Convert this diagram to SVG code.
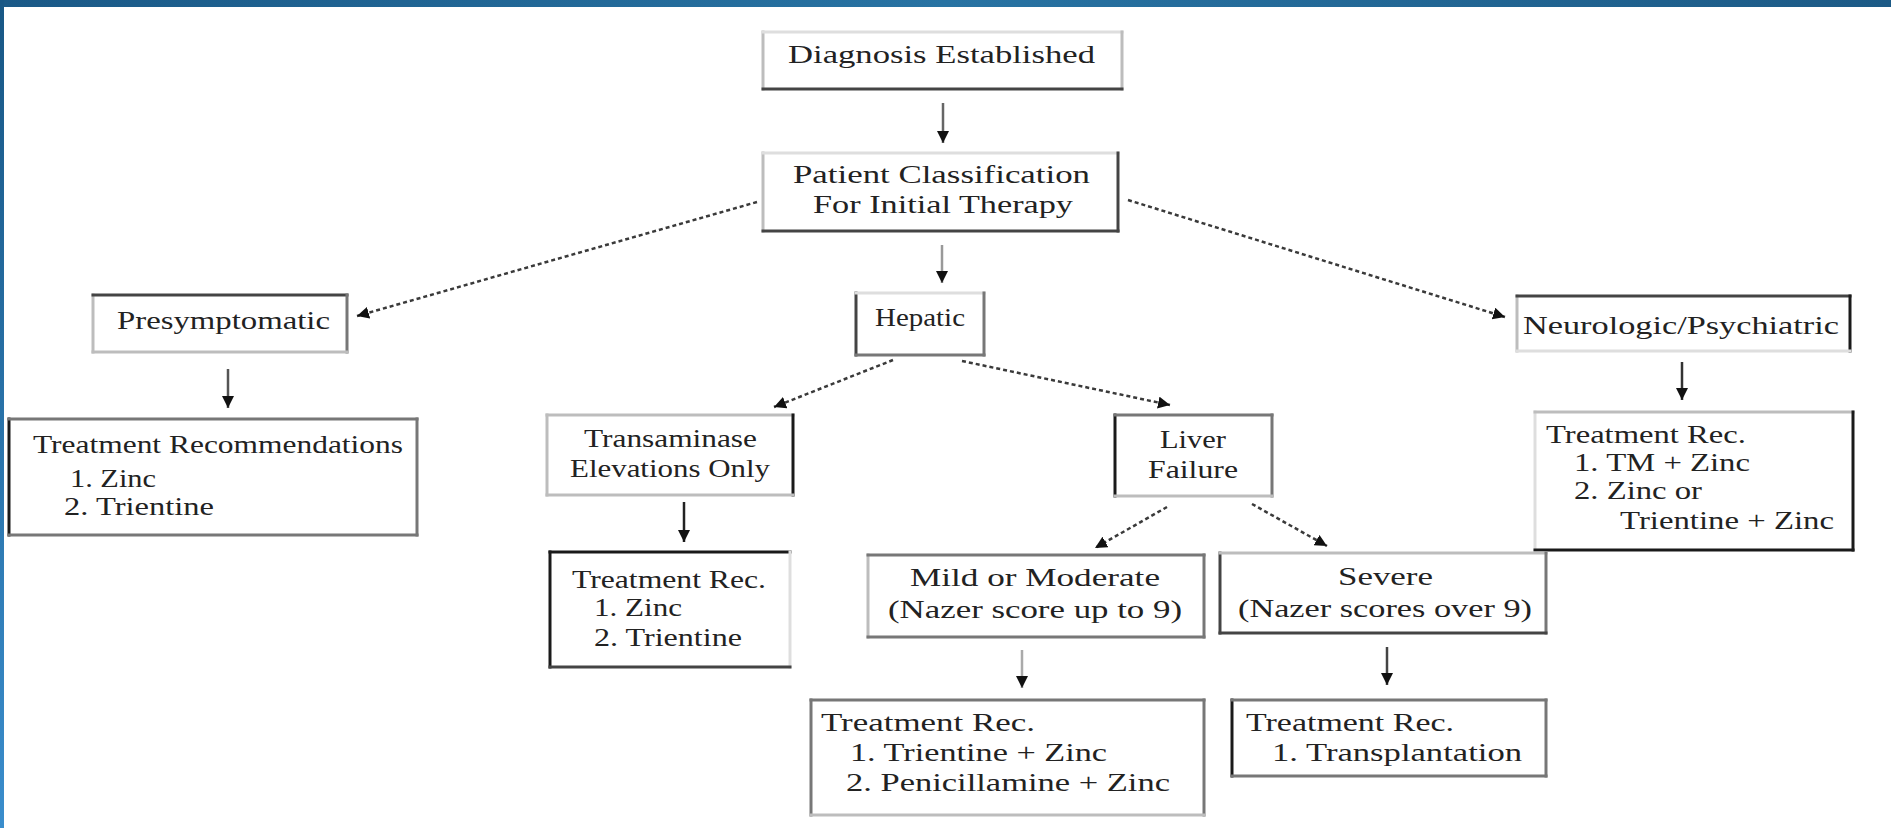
<svg xmlns="http://www.w3.org/2000/svg" width="1891" height="828" viewBox="0 0 1891 828">
  <defs>
    <linearGradient id="bandTop" x1="0" y1="0" x2="1" y2="0">
      <stop offset="0" stop-color="#1a5987"/>
      <stop offset="0.5" stop-color="#2873a3"/>
      <stop offset="1" stop-color="#1c5a86"/>
    </linearGradient>
    <linearGradient id="bandLeft" x1="0" y1="0" x2="0" y2="1">
      <stop offset="0" stop-color="#185785"/>
      <stop offset="1" stop-color="#3a8dcc"/>
    </linearGradient>
    <marker id="head" markerUnits="userSpaceOnUse" markerWidth="14" markerHeight="14" refX="12" refY="6" orient="auto">
      <path d="M0,0 L12,6 L0,12 z" fill="#111"/>
    </marker>
    <style>
      .bg { fill: #ffffff; stroke: none; }
      .e { fill: none; stroke-width: 3; stroke-linecap: square; }
      .k { stroke: #1a1a1a; }
      .d { stroke: #444444; }
      .m { stroke: #777777; }
      .l { stroke: #bdbdbd; }
      .x { stroke: #dedede; }
      text { font-family: "Liberation Serif", "Times New Roman", serif; font-size: 26px; fill: #222222; }
      .solid { fill: none; stroke-width: 2.5; marker-end: url(#head); }
      .dash { fill: none; stroke: #3a3a3a; stroke-width: 2.5; stroke-dasharray: 4 3; marker-end: url(#head); }
    </style>
  </defs>

  <!-- page background and blue frame -->
  <rect x="0" y="0" width="1891" height="828" fill="#ffffff"/>
  <rect x="0" y="0" width="1891" height="7" fill="url(#bandTop)"/>
  <rect x="0" y="0" width="4" height="828" fill="url(#bandLeft)"/>

  <!-- connectors -->
  <g id="connectors">
    <line class="solid" x1="943" y1="103" x2="943" y2="143" stroke="#666"/>
    <line class="solid" x1="942" y1="245" x2="942" y2="283" stroke="#999"/>
    <line class="dash" x1="757" y1="202" x2="357" y2="316"/>
    <line class="dash" x1="1128" y1="200" x2="1505" y2="317"/>
    <line class="solid" x1="228" y1="369" x2="228" y2="408" stroke="#555"/>
    <line class="dash" x1="893" y1="360" x2="774" y2="407"/>
    <line class="dash" x1="962" y1="361" x2="1170" y2="405"/>
    <line class="solid" x1="1682" y1="362" x2="1682" y2="400" stroke="#333"/>
    <line class="solid" x1="684" y1="502" x2="684" y2="542" stroke="#222"/>
    <line class="dash" x1="1167" y1="507" x2="1095" y2="548"/>
    <line class="dash" x1="1252" y1="504" x2="1327" y2="546"/>
    <line class="solid" x1="1022" y1="650" x2="1022" y2="688" stroke="#aaa"/>
    <line class="solid" x1="1387" y1="647" x2="1387" y2="685" stroke="#444"/>
  </g>

  <!-- Diagnosis Established -->
  <g id="diagnosis">
    <rect class="bg" x="763" y="32" width="359" height="57"/>
    <path class="e l" d="M763,32 V89"/><path class="e x" d="M763,32 H1122"/>
    <path class="e l" d="M1122,32 V89"/><path class="e d" d="M763,89 H1122"/>
    <text x="788" y="63" textLength="307" lengthAdjust="spacingAndGlyphs">Diagnosis Established</text>
  </g>

  <!-- Patient Classification -->
  <g id="classification">
    <rect class="bg" x="763" y="153" width="355" height="78"/>
    <path class="e l" d="M763,153 V231"/><path class="e x" d="M763,153 H1118"/>
    <path class="e d" d="M1118,153 V231"/><path class="e d" d="M763,231 H1118"/>
    <text x="793" y="183" textLength="297" lengthAdjust="spacingAndGlyphs">Patient Classification</text>
    <text x="813" y="213" textLength="260" lengthAdjust="spacingAndGlyphs">For Initial Therapy</text>
  </g>

  <!-- Presymptomatic -->
  <g id="presymptomatic">
    <rect class="bg" x="93" y="295" width="254" height="57"/>
    <path class="e l" d="M93,295 V352"/><path class="e d" d="M93,295 H347"/>
    <path class="e m" d="M347,295 V352"/><path class="e l" d="M93,352 H347"/>
    <text x="117" y="329" textLength="213" lengthAdjust="spacingAndGlyphs">Presymptomatic</text>
  </g>

  <g id="rec-presymptomatic">
    <rect class="bg" x="9" y="419" width="408" height="116"/>
    <path class="e k" d="M9,419 V535"/><path class="e m" d="M9,419 H417"/>
    <path class="e m" d="M417,419 V535"/><path class="e m" d="M9,535 H417"/>
    <text x="33" y="453" textLength="370" lengthAdjust="spacingAndGlyphs">Treatment Recommendations</text>
    <text x="70" y="487" textLength="86" lengthAdjust="spacingAndGlyphs">1. Zinc</text>
    <text x="64" y="515" textLength="150" lengthAdjust="spacingAndGlyphs">2. Trientine</text>
  </g>

  <!-- Hepatic -->
  <g id="hepatic">
    <rect class="bg" x="856" y="293" width="128" height="62"/>
    <path class="e d" d="M856,293 V355"/><path class="e x" d="M856,293 H984"/>
    <path class="e m" d="M984,293 V355"/><path class="e m" d="M856,355 H984"/>
    <text x="875" y="326" textLength="90" lengthAdjust="spacingAndGlyphs">Hepatic</text>
  </g>

  <!-- Neurologic/Psychiatric -->
  <g id="neurologic">
    <rect class="bg" x="1517" y="296" width="333" height="55"/>
    <path class="e l" d="M1517,296 V351"/><path class="e d" d="M1517,296 H1850"/>
    <path class="e k" d="M1850,296 V351"/><path class="e x" d="M1517,351 H1850"/>
    <text x="1523" y="334" textLength="316" lengthAdjust="spacingAndGlyphs">Neurologic/Psychiatric</text>
  </g>

  <g id="rec-neurologic">
    <rect class="bg" x="1535" y="412" width="318" height="138"/>
    <path class="e x" d="M1535,412 V550"/><path class="e l" d="M1535,412 H1853"/>
    <path class="e k" d="M1853,412 V550"/><path class="e k" d="M1535,550 H1853"/>
    <text x="1546" y="443" textLength="200" lengthAdjust="spacingAndGlyphs">Treatment Rec.</text>
    <text x="1574" y="471" textLength="176" lengthAdjust="spacingAndGlyphs">1. TM + Zinc</text>
    <text x="1574" y="499" textLength="128" lengthAdjust="spacingAndGlyphs">2. Zinc or</text>
    <text x="1620" y="529" textLength="214" lengthAdjust="spacingAndGlyphs">Trientine + Zinc</text>
  </g>

  <!-- Transaminase Elevations Only -->
  <g id="transaminase">
    <rect class="bg" x="547" y="415" width="246" height="80"/>
    <path class="e l" d="M547,415 V495"/><path class="e l" d="M547,415 H793"/>
    <path class="e k" d="M793,415 V495"/><path class="e l" d="M547,495 H793"/>
    <text x="584" y="447" textLength="173" lengthAdjust="spacingAndGlyphs">Transaminase</text>
    <text x="570" y="477" textLength="200" lengthAdjust="spacingAndGlyphs">Elevations Only</text>
  </g>

  <g id="rec-transaminase">
    <rect class="bg" x="550" y="552" width="240" height="115"/>
    <path class="e k" d="M550,552 V667"/><path class="e k" d="M550,552 H790"/>
    <path class="e x" d="M790,552 V667"/><path class="e d" d="M550,667 H790"/>
    <text x="572" y="588" textLength="194" lengthAdjust="spacingAndGlyphs">Treatment Rec.</text>
    <text x="594" y="616" textLength="88" lengthAdjust="spacingAndGlyphs">1. Zinc</text>
    <text x="594" y="646" textLength="148" lengthAdjust="spacingAndGlyphs">2. Trientine</text>
  </g>

  <!-- Liver Failure -->
  <g id="liver-failure">
    <rect class="bg" x="1115" y="415" width="157" height="81"/>
    <path class="e k" d="M1115,415 V496"/><path class="e m" d="M1115,415 H1272"/>
    <path class="e m" d="M1272,415 V496"/><path class="e l" d="M1115,496 H1272"/>
    <text x="1160" y="448" textLength="66" lengthAdjust="spacingAndGlyphs">Liver</text>
    <text x="1148" y="478" textLength="90" lengthAdjust="spacingAndGlyphs">Failure</text>
  </g>

  <!-- Mild or Moderate -->
  <g id="mild">
    <rect class="bg" x="868" y="555" width="336" height="82"/>
    <path class="e l" d="M868,555 V637"/><path class="e m" d="M868,555 H1204"/>
    <path class="e m" d="M1204,555 V637"/><path class="e m" d="M868,637 H1204"/>
    <text x="910" y="586" textLength="250" lengthAdjust="spacingAndGlyphs">Mild or Moderate</text>
    <text x="888" y="618" textLength="294" lengthAdjust="spacingAndGlyphs">(Nazer score up to 9)</text>
  </g>

  <g id="rec-mild">
    <rect class="bg" x="811" y="700" width="393" height="115"/>
    <path class="e m" d="M811,700 V815"/><path class="e m" d="M811,700 H1204"/>
    <path class="e m" d="M1204,700 V815"/><path class="e l" d="M811,815 H1204"/>
    <text x="821" y="731" textLength="214" lengthAdjust="spacingAndGlyphs">Treatment Rec.</text>
    <text x="850" y="761" textLength="257" lengthAdjust="spacingAndGlyphs">1. Trientine + Zinc</text>
    <text x="846" y="791" textLength="324" lengthAdjust="spacingAndGlyphs">2. Penicillamine + Zinc</text>
  </g>

  <!-- Severe -->
  <g id="severe">
    <rect class="bg" x="1220" y="553" width="326" height="80"/>
    <path class="e d" d="M1220,553 V633"/><path class="e l" d="M1220,553 H1546"/>
    <path class="e m" d="M1546,553 V633"/><path class="e d" d="M1220,633 H1546"/>
    <text x="1338" y="585" textLength="95" lengthAdjust="spacingAndGlyphs">Severe</text>
    <text x="1238" y="617" textLength="294" lengthAdjust="spacingAndGlyphs">(Nazer scores over 9)</text>
  </g>

  <g id="rec-severe">
    <rect class="bg" x="1232" y="700" width="314" height="76"/>
    <path class="e k" d="M1232,700 V776"/><path class="e m" d="M1232,700 H1546"/>
    <path class="e m" d="M1546,700 V776"/><path class="e m" d="M1232,776 H1546"/>
    <text x="1246" y="731" textLength="208" lengthAdjust="spacingAndGlyphs">Treatment Rec.</text>
    <text x="1272" y="761" textLength="250" lengthAdjust="spacingAndGlyphs">1. Transplantation</text>
  </g>
</svg>
